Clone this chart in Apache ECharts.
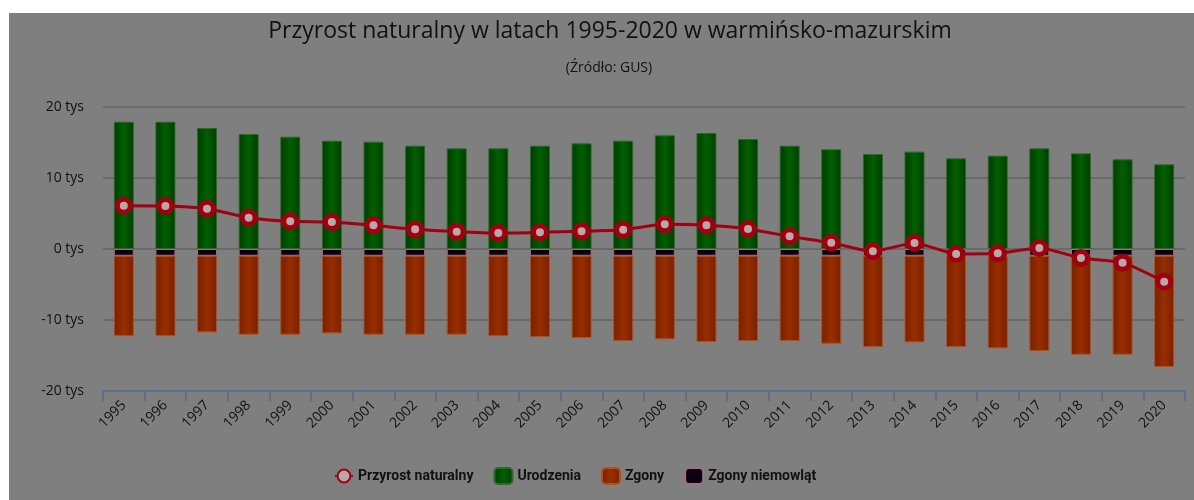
<!DOCTYPE html>
<html>
<head>
<meta charset="utf-8">
<script src="https://cdn.jsdelivr.net/npm/echarts@6/dist/echarts.min.js"></script>
<style>
  html, body { margin: 0; padding: 0; background: #ffffff; width: 1194px; height: 500px; overflow: hidden; }
  #chart { position: absolute; left: 9px; top: 13px; width: 1185px; height: 487px; background: #7f7f7f; }
</style>
</head>
<body>
<div id="chart"></div>
<script>
// ---- data (thousands) ----
const years = ['1995','1996','1997','1998','1999','2000','2001','2002','2003','2004','2005','2006','2007','2008','2009','2010','2011','2012','2013','2014','2015','2016','2017','2018','2019','2020'];
const naturalIncrease = [6.1, 6.06, 5.68, 4.41, 3.9, 3.8, 3.33, 2.77, 2.44, 2.25, 2.35, 2.49, 2.72, 3.47, 3.33, 2.82, 1.78, 0.89, -0.33, 0.85, -0.7, -0.61, 0.14, -1.27, -1.92, -4.6];
const births = [17.93, 17.93, 17.04, 16.2, 15.82, 15.25, 15.11, 14.55, 14.18, 14.18, 14.55, 14.88, 15.25, 16.01, 16.34, 15.49, 14.55, 14.04, 13.38, 13.71, 12.77, 13.15, 14.18, 13.47, 12.63, 11.92];
const deathsTotal = [-12.25, -12.25, -11.74, -12.07, -12.07, -11.88, -12.07, -12.07, -12.07, -12.25, -12.39, -12.54, -12.96, -12.72, -13.1, -12.96, -12.96, -13.33, -13.8, -13.15, -13.8, -13.99, -14.37, -14.88, -14.88, -16.62];
const infantDeaths = [-0.95, -0.95, -0.95, -0.95, -0.95, -0.95, -0.95, -0.95, -0.95, -0.95, -0.95, -0.95, -0.95, -0.95, -0.95, -0.95, -0.95, -0.95, -0.95, -0.95, -0.95, -0.95, -0.95, -0.95, -0.95, -0.95];
const yTicks = [-20, -10, 0, 10, 20];
const titleText = 'Przyrost naturalny w latach 1995-2020 w warmińsko-mazurskim';
const subtitleText = '(Źródło: GUS)';

const deathsSegment = deathsTotal.map((v, i) => +(v - infantDeaths[i]).toFixed(2));

const chart = echarts.init(document.getElementById('chart'), null, { renderer: 'canvas' });
const font = 'Open Sans, Liberation Sans, sans-serif';

function hGrad(edge, mid) {
  return new echarts.graphic.LinearGradient(0, 0, 1, 0, [
    { offset: 0, color: edge }, { offset: 0.5, color: mid }, { offset: 1, color: edge }
  ]);
}

chart.setOption({
  backgroundColor: '#7f7f7f',
  animation: false,
  textStyle: { fontFamily: font },
  graphic: [
    { type: 'text', x: 601, y: 18, style: { text: titleText, fontSize: 23, fontFamily: font, fill: '#111', align: 'center', verticalAlign: 'middle' } },
    { type: 'text', x: 600, y: 55, style: { text: subtitleText, fontSize: 14, fontFamily: font, fill: '#111', align: 'center', verticalAlign: 'middle' } }
  ],
  legend: {
    top: 449,
    left: 320,
    itemWidth: 18,
    itemHeight: 16,
    itemGap: 20,
    data: ['Przyrost naturalny', 'Urodzenia', 'Zgony', 'Zgony niemowląt'],
    textStyle: { color: '#111', fontSize: 14, fontWeight: 'bold', fontFamily: 'Roboto, sans-serif' }
  },
  grid: { left: 94, right: 9, top: 94, bottom: 109 },
  xAxis: {
    type: 'category',
    data: years,
    boundaryGap: true,
    axisLine: { onZero: false, lineStyle: { color: '#5d6f88', width: 2 } },
    axisTick: { show: true, alignWithLabel: false, length: 10, lineStyle: { color: '#5d6f88', width: 2 } },
    axisLabel: { rotate: 45, color: '#111', fontSize: 14, margin: 12, fontFamily: font }
  },
  yAxis: {
    type: 'value',
    min: yTicks[0],
    max: yTicks[yTicks.length - 1],
    interval: 10,
    axisLine: { show: false },
    axisTick: { show: false },
    axisLabel: { color: '#111', fontSize: 14, margin: 19, fontFamily: font, formatter: v => v + ' tys' },
    splitLine: { lineStyle: { color: '#6a6a6a', width: 2 } }
  },
  series: [
    {
      name: 'Urodzenia', type: 'bar', stack: 'a', barWidth: 20, data: births,
      itemStyle: { color: hGrad('#003c00', '#006000'), borderColor: '#2b6a2b', borderWidth: 1 },
      z: 2
    },
    {
      name: 'Zgony niemowląt', type: 'bar', stack: 'a', barWidth: 20, data: infantDeaths,
      itemStyle: { color: '#0a0010', borderColor: '#a07080', borderWidth: 1 },
      z: 2
    },
    {
      name: 'Zgony', type: 'bar', stack: 'a', barWidth: 20, data: deathsSegment,
      itemStyle: { color: hGrad('#772000', '#982e00'), borderColor: '#b0501e', borderWidth: 1 },
      z: 2
    },
    {
      name: 'Przyrost naturalny', type: 'line', data: naturalIncrease,
      smooth: 0.2,
      symbol: 'circle', symbolSize: 13,
      lineStyle: { color: '#a0000f', width: 3 },
      itemStyle: { color: '#b8a8a8', borderColor: '#a0000f', borderWidth: 5 },
      z: 5
    }
  ]
});
</script>
</body>
</html>
